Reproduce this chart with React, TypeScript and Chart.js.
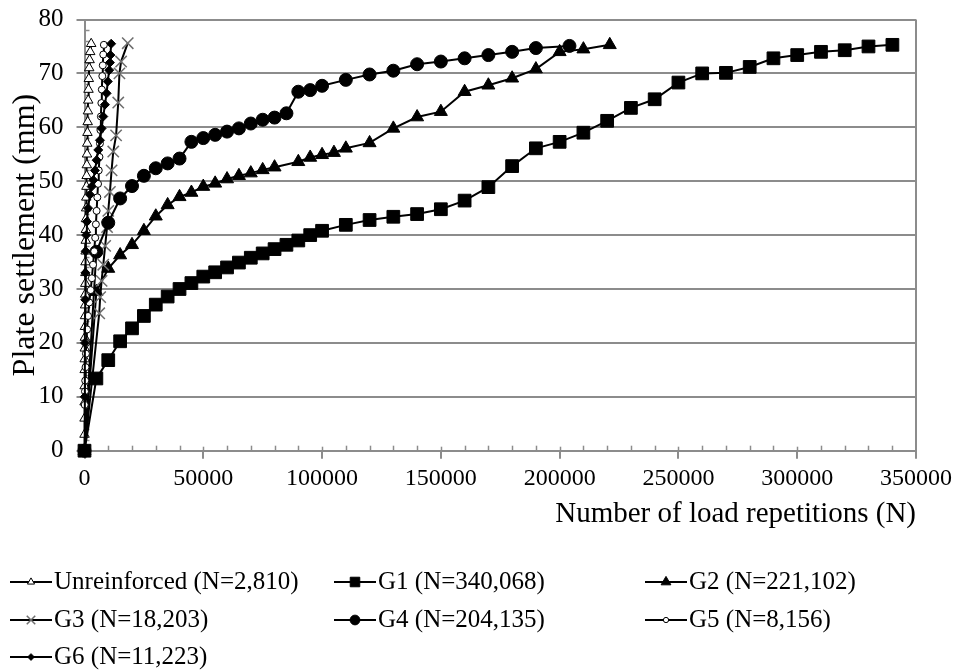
import React, { useEffect, useRef } from "react";
import { Chart, registerables } from "chart.js";
import { drawPoint } from "chart.js/helpers";

Chart.register(...registerables);

const FONT = '"Liberation Serif", "Times New Roman", serif';
const GRID = "#8c8c8c";

// Unreinforced (N=2,810)
const unreinforcedN = [0, 10, 20, 40, 60, 80, 100, 130, 160, 190, 220, 260, 300, 340, 380, 420, 470, 520, 570, 630, 690, 750, 820, 900, 980, 1060, 1150, 1240, 1340, 1450, 1560, 1680, 1820, 1980, 2150, 2400, 2810];
const unreinforcedS = [0, 3, 6, 9, 12, 15, 17, 19, 21, 23, 25, 27, 29, 31, 33, 35, 37, 39, 41, 43, 45, 47, 49, 51, 53, 55, 57, 59, 61, 63, 65, 67, 69, 71, 72.5, 74, 75.5];

// G1 (N=340,068)
const g1N = [0, 5000, 10000, 15000, 20000, 25000, 30000, 35000, 40000, 45000, 50000, 55000, 60000, 65000, 70000, 75000, 80000, 85000, 90000, 95000, 100000, 110000, 120000, 130000, 140000, 150000, 160000, 170000, 180000, 190000, 200000, 210000, 220000, 230000, 240000, 250000, 260000, 270000, 280000, 290000, 300000, 310000, 320000, 330000, 340068];
const g1S = [0, 13.4, 16.8, 20.3, 22.7, 25.0, 27.1, 28.6, 30.0, 31.1, 32.3, 33.1, 34.0, 34.9, 35.8, 36.6, 37.4, 38.2, 39.0, 40.0, 40.8, 41.9, 42.8, 43.4, 43.9, 44.8, 46.4, 48.9, 52.8, 56.1, 57.3, 59.0, 61.2, 63.6, 65.2, 68.3, 70.0, 70.1, 71.2, 72.8, 73.4, 74.0, 74.3, 75.0, 75.3];

// G2 (N=221,102)
const g2N = [0, 5000, 10000, 15000, 20000, 25000, 30000, 35000, 40000, 45000, 50000, 55000, 60000, 65000, 70000, 75000, 80000, 90000, 95000, 100000, 105000, 110000, 120000, 130000, 140000, 150000, 160000, 170000, 180000, 190000, 200000, 210000, 221102];
const g2S = [0, 29.5, 33.8, 36.3, 38.2, 40.8, 43.5, 45.6, 47.1, 47.9, 49.0, 49.6, 50.4, 51.0, 51.5, 52.1, 52.6, 53.6, 54.4, 54.9, 55.3, 56.1, 57.1, 59.8, 61.9, 62.9, 66.6, 67.8, 69.1, 70.8, 74.0, 74.5, 75.3];

// G3 (N=18,203)
const g3N = [0, 6200, 6600, 7200, 7900, 8700, 9500, 10000, 10700, 11400, 12100, 13300, 14200, 14700, 15400, 18203];
const g3S = [0, 25.5, 28.5, 31.5, 34.5, 38.0, 41.5, 44.5, 48.0, 52.0, 55.5, 58.5, 64.6, 70.0, 72.2, 75.6];

// G4 (N=204,135)
const g4N = [0, 5000, 10000, 15000, 20000, 25000, 30000, 35000, 40000, 45000, 50000, 55000, 60000, 65000, 70000, 75000, 80000, 85000, 90000, 95000, 100000, 110000, 120000, 130000, 140000, 150000, 160000, 170000, 180000, 190000, 204135];
const g4S = [0, 36.9, 42.3, 46.8, 49.1, 51.0, 52.4, 53.3, 54.2, 57.3, 58.0, 58.6, 59.2, 59.8, 60.7, 61.4, 61.8, 62.6, 66.6, 66.9, 67.7, 68.8, 69.8, 70.5, 71.7, 72.2, 72.8, 73.4, 74.0, 74.7, 75.1];

// G5 (N=8,156)
const g5N = [0, 100, 200, 300, 450, 600, 800, 1100, 1500, 2000, 2600, 3100, 3600, 4100, 4500, 4800, 5100, 5400, 5700, 6000, 6300, 6500, 6700, 6900, 7100, 7300, 7500, 7700, 7900, 8156];
const g5S = [0, 8.5, 11, 13, 15.5, 18, 20, 22.5, 25, 27.5, 29.8, 32, 34.5, 37, 39.5, 42, 44.5, 47, 49.5, 52, 54.5, 57, 59.5, 62, 64.5, 67, 69.5, 71.5, 73.5, 75.3];

// G6 (N=11,223)
const g6N = [0, 100, 200, 300, 400, 500, 700, 1000, 1500, 2300, 3000, 3700, 4400, 5100, 5800, 6500, 7200, 7900, 8600, 9300, 9800, 10400, 10700, 10900, 11223];
const g6S = [0, 10, 20, 28, 33, 37, 40, 42.5, 45, 47.5, 49, 50.2, 52, 53.9, 55.8, 57.6, 59.8, 62, 64.2, 66.3, 68.5, 70.6, 72, 73.4, 75.5];

const seriesLabels = [
  "Unreinforced (N=2,810)",
  "G1 (N=340,068)",
  "G2 (N=221,102)",
  "G3 (N=18,203)",
  "G4 (N=204,135)",
  "G5 (N=8,156)",
  "G6 (N=11,223)",
];

const xTicks = [0, 50000, 100000, 150000, 200000, 250000, 300000, 350000];
const yTicks = [0, 10, 20, 30, 40, 50, 60, 70, 80];

const toPts = (n: number[], s: number[]) => n.map((v, i) => ({ x: v, y: s[i] }));

const styles = [
  { pointStyle: "triangle", radius: 5.5, bg: "#ffffff", border: "#000000", bw: 1 },
  { pointStyle: "rect", radius: 9, bg: "#000000", border: "#000000", bw: 1 },
  { pointStyle: "triangle", radius: 7.5, bg: "#000000", border: "#000000", bw: 1 },
  { pointStyle: "crossRot", radius: 8, bg: "#6e6e6e", border: "#6e6e6e", bw: 1.5 },
  { pointStyle: "circle", radius: 6.5, bg: "#000000", border: "#000000", bw: 1 },
  { pointStyle: "circle", radius: 3.5, bg: "#ffffff", border: "#000000", bw: 1 },
  { pointStyle: "rectRot", radius: 4.5, bg: "#000000", border: "#000000", bw: 1 },
];

const seriesData = [
  toPts(unreinforcedN, unreinforcedS),
  toPts(g1N, g1S),
  toPts(g2N, g2S),
  toPts(g3N, g3S),
  toPts(g4N, g4S),
  toPts(g5N, g5S),
  toPts(g6N, g6S),
];

const drawOrder = [7, 1, 6, 5, 4, 3, 2];

const extrasPlugin = {
  id: "extras",
  beforeDatasetsDraw(chart: any) {
    const { ctx, chartArea, scales } = chart;
    const x = scales.x;
    const y = scales.y;
    ctx.save();
    ctx.strokeStyle = GRID;
    ctx.lineWidth = 1.5;
    for (let v = 10000; v < 350000; v += 10000) {
      const px = Math.round(x.getPixelForValue(v)) + 0.5;
      const len = v % 50000 === 0 ? 4 : 5;
      ctx.beginPath();
      ctx.moveTo(px, chartArea.bottom);
      ctx.lineTo(px, chartArea.bottom - len);
      ctx.stroke();
    }
    for (let v = 2; v < 80; v += 2) {
      if (v % 10 === 0) continue;
      const py = Math.round(y.getPixelForValue(v)) + 0.5;
      ctx.beginPath();
      ctx.moveTo(chartArea.left, py);
      ctx.lineTo(chartArea.left + 5, py);
      ctx.stroke();
    }
    ctx.restore();
  },
  afterDraw(chart: any) {
    const { ctx } = chart;
    const rows = [582, 620, 657];
    const cols = [10, 334, 645];
    ctx.save();
    seriesLabels.forEach((label, i) => {
      const r = Math.floor(i / 3);
      const c = i % 3;
      const x0 = cols[c];
      const yy = rows[r];
      const st = styles[i];
      ctx.strokeStyle = "#000";
      ctx.lineWidth = 2;
      ctx.beginPath();
      ctx.moveTo(x0, yy);
      ctx.lineTo(x0 + 42, yy);
      ctx.stroke();
      ctx.fillStyle = st.bg;
      ctx.strokeStyle = st.border;
      ctx.lineWidth = st.bw;
      drawPoint(ctx, { pointStyle: st.pointStyle, radius: st.radius * 0.75, rotation: 0, borderWidth: st.bw }, x0 + 21, yy);
      ctx.fillStyle = "#000";
      ctx.font = `25px ${FONT}`;
      ctx.textBaseline = "middle";
      ctx.textAlign = "left";
      ctx.fillText(label, x0 + 44, yy);
    });
    ctx.restore();
  },
};

export default function App() {
  const ref = useRef<HTMLCanvasElement>(null);
  useEffect(() => {
    document.body.style.margin = "0";
    const datasets = seriesData.map((d, i) => ({
      label: seriesLabels[i],
      data: d,
      showLine: true,
      borderColor: "#000000",
      borderWidth: 2,
      pointStyle: styles[i].pointStyle,
      pointRadius: styles[i].radius,
      pointHoverRadius: styles[i].radius,
      pointBackgroundColor: styles[i].bg,
      pointBorderColor: styles[i].border,
      pointBorderWidth: styles[i].bw,
      order: drawOrder[i],
      tension: 0,
      clip: false,
    }));
    const chart = new Chart(ref.current as HTMLCanvasElement, {
      type: "scatter",
      data: { datasets } as any,
      options: {
        responsive: false,
        animation: false,
        layout: { autoPadding: false, padding: { left: 0, right: 40, top: 19.5, bottom: 134 } },
        plugins: { legend: { display: false }, tooltip: { enabled: false } },
        scales: {
          x: {
            type: "linear",
            min: 0,
            max: 350000,
            afterFit: (s: any) => {
              s.height = 85.3;
              s.paddingLeft = 0;
              s.paddingRight = 0;
            },
            afterBuildTicks: (s: any) => {
              s.ticks = xTicks.map((v) => ({ value: v }));
            },
            ticks: {
              callback: (v: any) => String(v),
              font: { family: FONT, size: 24 },
              color: "#000",
              padding: 6,
              maxRotation: 0,
              autoSkip: false,
            },
            grid: {
              drawOnChartArea: true,
              color: (c: any) => (c.tick && c.tick.value === 350000 ? GRID : "rgba(0,0,0,0)"),
              tickColor: GRID,
              tickLength: 8,
              lineWidth: 2,
            },
            border: { display: true, color: GRID, width: 2 },
            title: {
              display: true,
              text: "Number of load repetitions (N)",
              align: "end",
              font: { family: FONT, size: 29 },
              color: "#000",
              padding: { top: 0, bottom: 4 },
            },
          },
          y: {
            min: 0,
            max: 80,
            afterFit: (s: any) => {
              s.width = 84.5;
              s.paddingTop = 0;
              s.paddingBottom = 0;
            },
            afterBuildTicks: (s: any) => {
              s.ticks = yTicks.map((v) => ({ value: v }));
            },
            ticks: {
              font: { family: FONT, size: 25 },
              color: "#000",
              padding: 13,
            },
            grid: { color: GRID, lineWidth: 2, tickColor: GRID, tickLength: 8 },
            border: { display: true, color: GRID, width: 2 },
            title: {
              display: true,
              text: "Plate settlement (mm)",
              font: { family: FONT, size: 32 },
              color: "#000",
              padding: { top: 6, bottom: 0 },
            },
          },
        },
      } as any,
      plugins: [extrasPlugin],
    });
    return () => chart.destroy();
  }, []);
  return <canvas ref={ref} width={956} height={670} style={{ display: "block" }} />;
}
